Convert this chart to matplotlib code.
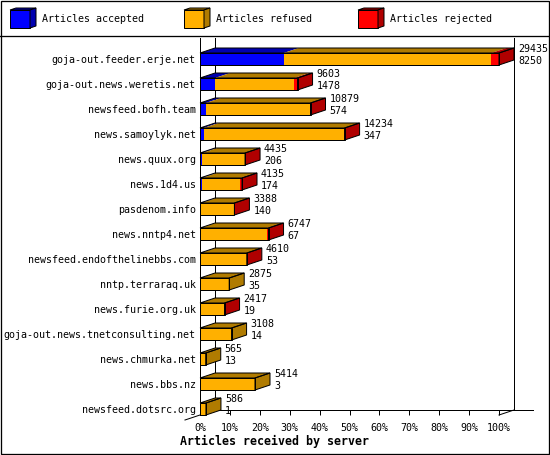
import matplotlib
matplotlib.use("Agg")
import matplotlib.pyplot as plt
from matplotlib.patches import Rectangle, Polygon
from matplotlib.lines import Line2D
from matplotlib import transforms
import numpy as np

# ---------------- data ----------------
hosts = [
    "goja-out.feeder.erje.net",
    "goja-out.news.weretis.net",
    "newsfeed.bofh.team",
    "news.samoylyk.net",
    "news.quux.org",
    "news.1d4.us",
    "pasdenom.info",
    "news.nntp4.net",
    "newsfeed.endofthelinebbs.com",
    "nntp.terraraq.uk",
    "news.furie.org.uk",
    "goja-out.news.tnetconsulting.net",
    "news.chmurka.net",
    "news.bbs.nz",
    "newsfeed.dotsrc.org",
]
total = [29435, 9603, 10879, 14234, 4435, 4135, 3388, 6747, 4610, 2875, 2417, 3108, 565, 5414, 586]
accepted = [8250, 1478, 574, 347, 206, 174, 140, 67, 53, 35, 19, 14, 13, 3, 1]
refused = [20445, 7825, 10275, 13857, 4209, 3791, 3228, 6530, 4537, 2840, 2383, 3094, 552, 5411, 585]
rejected = [740, 300, 30, 30, 20, 170, 20, 150, 20, 0, 15, 0, 0, 0, 0]
series = ["Articles accepted", "Articles refused", "Articles rejected"]
pct_ticks = [0, 10, 20, 30, 40, 50, 60, 70, 80, 90, 100]
xlabel = "Articles received by server"

# ---------------- style ----------------
front_col = ["#0000FF", "#FFB000", "#FF0000"]
dark_col = ["#0000B0", "#B07B00", "#B00000"]
MONO = "DejaVu Sans Mono"
FS = 7.2
LW = 0.72
W, H = 550, 455
DEPTH_X, DEPTH_Y = 15, 5  # px

fig = plt.figure(figsize=(W / 100, H / 100), dpi=100)
AX_L, AX_R, AX_T, AX_B = 200, 499, 38, 415
ax = fig.add_axes([AX_L / W, 1 - AX_B / H, (AX_R - AX_L) / W, (AX_B - AX_T) / H])
ax.set_facecolor("none")
n = len(hosts)
xmax = max(total)
ax.set_xlim(0, xmax)
ybot, ytop = n - 1 + 6 / 25, -21 / 25
ax.set_ylim(ybot, ytop)

inv = ax.transData.inverted()
o = ax.transData.transform((0, 0))
DX, DY = inv.transform(o + np.array([DEPTH_X, DEPTH_Y]))
h = 12 / 25

back = ax.transData + transforms.ScaledTranslation(DEPTH_X / 100, DEPTH_Y / 100, fig.dpi_scale_trans)
bl = transforms.blended_transform_factory(back, ax.transAxes)
axh = AX_B - AX_T
for xv in (0, xmax):
    ax.add_line(Line2D([xv, xv], [DEPTH_Y / axh, 1], transform=bl, color="black", lw=LW, clip_on=False, zorder=1))
ax.add_line(Line2D([0, xmax * 1.063], [ybot, ybot], transform=back, color="black", lw=LW, clip_on=False, zorder=1))
ax.add_line(Line2D([-DX, DX], [ybot - DY, ybot + DY], color="black", lw=LW, clip_on=False, zorder=1))
ax.add_line(Line2D([xmax, xmax + DX], [ybot, ybot + DY], color="black", lw=LW, clip_on=False, zorder=1))

for i in range(n):
    segs = [accepted[i], refused[i], rejected[i]]
    yt, yb = i - h / 2, i + h / 2
    left = 0
    last = 0
    for k, v in enumerate(segs):
        if v <= 0:
            continue
        ax.add_patch(Rectangle((left, yt), v, h, fc=front_col[k], ec="none", zorder=3, clip_on=False))
        ax.add_patch(Polygon([(left, yt), (left + v, yt), (left + v + DX, yt + DY), (left + DX, yt + DY)],
                             closed=True, fc=dark_col[k], ec="none", zorder=3, clip_on=False))
        left += v
        last = k
    side = [(left, yt), (left, yb), (left + DX, yb + DY), (left + DX, yt + DY)]
    ax.add_patch(Polygon(side, closed=True, fc=dark_col[last], ec="black", lw=LW, zorder=4, clip_on=False))
    ax.add_patch(Rectangle((0, yt), left, h, fc="none", ec="black", lw=LW, zorder=4, clip_on=False))
    ax.add_patch(Polygon([(0, yt), (left, yt), (left + DX, yt + DY), (DX, yt + DY)],
                         closed=True, fc="none", ec="black", lw=LW, zorder=4, clip_on=False))
    t1 = ax.transData + transforms.ScaledTranslation((DEPTH_X + 4) / 100, 10 / 100, fig.dpi_scale_trans)
    t2 = ax.transData + transforms.ScaledTranslation((DEPTH_X + 4) / 100, -2 / 100, fig.dpi_scale_trans)
    ax.text(left, i, str(total[i]), transform=t1, family=MONO, fontsize=FS, va="center", ha="left", clip_on=False, zorder=5)
    ax.text(left, i, str(accepted[i]), transform=t2, family=MONO, fontsize=FS, va="center", ha="left", clip_on=False, zorder=5)

for s in ("top", "right", "bottom"):
    ax.spines[s].set_visible(False)
ax.spines["left"].set_linewidth(LW)
ax.spines["left"].set_zorder(2)
ax.set_yticks(range(n))
ax.set_yticklabels(hosts, family=MONO, fontsize=FS)
ax.tick_params(axis="y", length=0, pad=3)
ax.set_xticks([xmax * p / 100 for p in pct_ticks])
ax.set_xticklabels([f"{p}%" for p in pct_ticks], family=MONO, fontsize=FS)
ax.tick_params(axis="x", direction="in", length=5 * 0.72, width=LW, pad=5.5)

fig.text(275 / W, 1 - 441 / H, xlabel, family=MONO, fontweight="bold", fontsize=8.4, ha="center", va="center")

# ---------------- frame & legend ----------------
lax = fig.add_axes([0, 0, 1, 1])
lax.set_xlim(0, W)
lax.set_ylim(H, 0)
lax.axis("off")
lax.set_facecolor("none")
lax.add_patch(Rectangle((0.5, 0.5), W - 1.5, H - 1.5, fc="none", ec="black", lw=LW * 1.3))
lax.add_line(Line2D([0, W], [35.5, 35.5], color="black", lw=LW * 1.3))
for k, x0 in enumerate([10, 184, 358]):
    lax.add_patch(Rectangle((x0, 10), 20, 18, fc=front_col[k], ec="black", lw=LW))
    lax.add_patch(Polygon([(x0, 10), (x0 + 20, 10), (x0 + 26, 8), (x0 + 6, 8)], closed=True, fc=dark_col[k], ec="black", lw=LW))
    lax.add_patch(Polygon([(x0 + 20, 10), (x0 + 20, 28), (x0 + 26, 26), (x0 + 26, 8)], closed=True, fc=dark_col[k], ec="black", lw=LW))
    lax.text(x0 + 32, 19.5, series[k], family=MONO, fontsize=FS, va="center", ha="left")

fig.savefig("out.png", dpi=100)
